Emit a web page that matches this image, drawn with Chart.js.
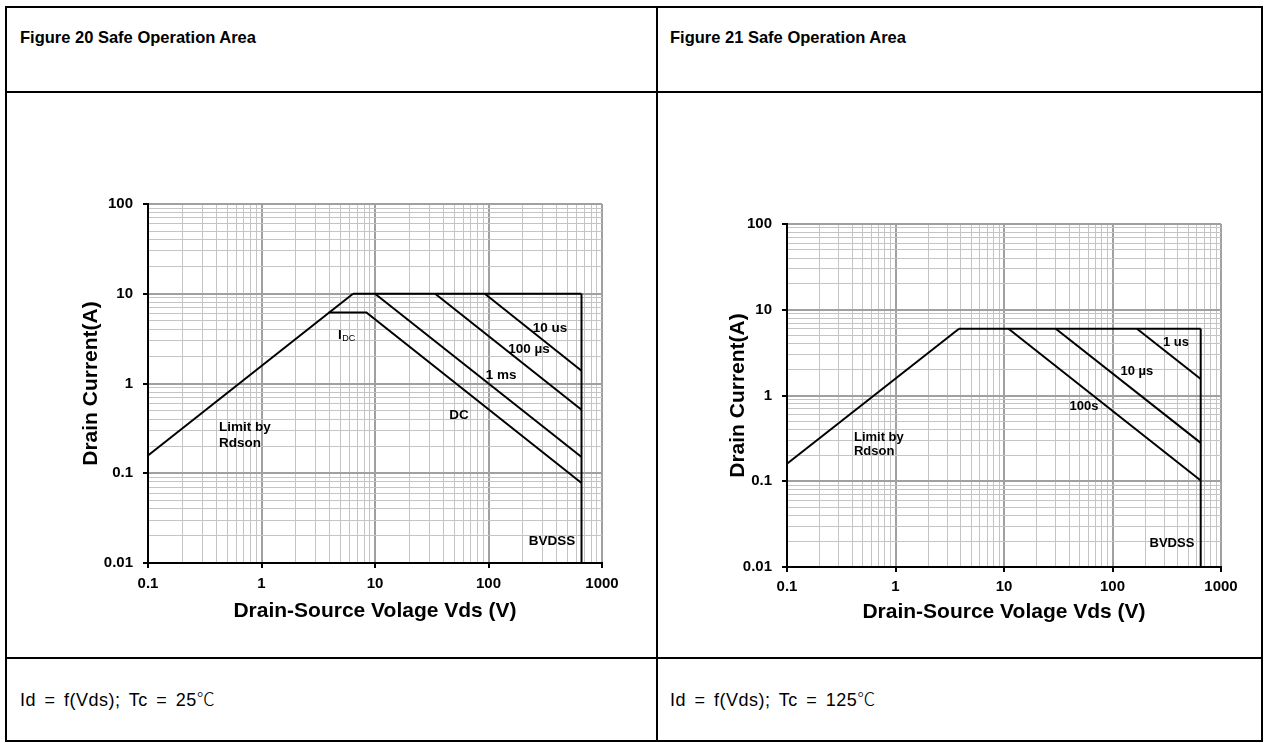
<!DOCTYPE html>
<html>
<head>
<meta charset="utf-8">
<script src="https://cdn.jsdelivr.net/npm/chart.js@4.4.1/dist/chart.umd.min.js"></script>
<style>
  html, body { margin: 0; padding: 0; background: #fff; }
  body { width: 1268px; height: 743px; position: relative; overflow: hidden;
         font-family: "Liberation Sans", Arial, sans-serif; color: #000; }
  .ln { position: absolute; background: #000; }
  .cap { position: absolute; font-size: 16.5px; font-weight: bold; line-height: 20px; white-space: nowrap; }
  .note { position: absolute; font-size: 18px; line-height: 20px; white-space: nowrap;
          letter-spacing: 0.5px; word-spacing: 3px; }
  .note span { font-family: "Noto Sans CJK SC", "DejaVu Sans", sans-serif; font-weight: 300; }
  .box { position: absolute; }
</style>
</head>
<body>
<!-- table lines -->
<div class="ln" style="left:5px;top:6px;width:1258px;height:2px"></div>
<div class="ln" style="left:5px;top:91px;width:1258px;height:2px"></div>
<div class="ln" style="left:5px;top:657px;width:1258px;height:2px"></div>
<div class="ln" style="left:5px;top:740px;width:1258px;height:2px"></div>
<div class="ln" style="left:5px;top:6px;width:2px;height:736px"></div>
<div class="ln" style="left:656px;top:6px;width:2px;height:736px"></div>
<div class="ln" style="left:1261px;top:6px;width:2px;height:736px"></div>

<div class="cap" style="left:20px;top:27px">Figure 20 Safe Operation Area</div>
<div class="cap" style="left:670px;top:27px">Figure 21 Safe Operation Area</div>
<div class="note" style="left:20px;top:688px">Id = f(Vds); Tc = 25<span>℃</span></div>
<div class="note" style="left:670px;top:688px">Id = f(Vds); Tc = 125<span>℃</span></div>

<div class="box" style="left:40px;top:170px;width:600px;height:470px"><canvas id="soa25" width="600" height="470"></canvas></div>
<div class="box" style="left:680px;top:190px;width:570px;height:450px"><canvas id="soa125" width="570" height="450"></canvas></div>

<script>
const FONT = '"Liberation Sans", Arial, sans-serif';

// axis ranges / labelled ticks
const xTicks = [0.1, 1, 10, 100, 1000];
const yTicks = [0.01, 0.1, 1, 10, 100];

// Figure 20, Tc = 25C
const f20RdsonV = [0.1, 6.4];
const f20RdsonI = [0.158, 10];
const f20LimitV = [6.4, 660];
const f20LimitI = [10, 10];
const f20DcV = [3.9, 8.4, 660];
const f20DcI = [6.2, 6.2, 0.078];
const f20Ms1V = [10, 660];
const f20Ms1I = [10, 0.152];
const f20Us100V = [33.9, 660];
const f20Us100I = [10, 0.51];
const f20Us10V = [92.8, 660];
const f20Us10I = [10, 1.39];
const f20BvV = [660, 660];
const f20BvI = [10, 0.01];

// Figure 21, Tc = 125C
const f21RdsonV = [0.1, 3.85];
const f21RdsonI = [0.16, 6];
const f21LimitV = [3.85, 650];
const f21LimitI = [6, 6];
const f21S100V = [11, 650];
const f21S100I = [6, 0.102];
const f21Us10V = [30, 650];
const f21Us10I = [6, 0.28];
const f21Us1V = [168, 650];
const f21Us1I = [6, 1.56];
const f21BvV = [650, 650];
const f21BvI = [6, 0.01];

// curve labels, anchored in data units
const f20Notes = [
    { text: "10 us", x: 348, y: 4.15 },
    { text: "100 µs", x: 227, y: 2.42 },
    { text: "1 ms", x: 129, y: 1.24 },
    { text: "DC", x: 55, y: 0.446 },
    { text: "Limit by", x: 0.423, y: 0.327, align: "left" },
    { text: "Rdson", x: 0.423, y: 0.217, align: "left" },
    { text: "BVDSS", x: 362, y: 0.0176 },
    { text: "I", sub: "DC", x: 4.72, y: 3.47, align: "left" }
];
const f21Notes = [
    { text: "1 us", x: 385, y: 4.2 },
    { text: "10 µs", x: 168, y: 1.93 },
    { text: "100s", x: 54.6, y: 0.755 },
    { text: "Limit by", x: 0.414, y: 0.328, align: "left" },
    { text: "Rdson", x: 0.414, y: 0.225, align: "left" },
    { text: "BVDSS", x: 353, y: 0.019 }
];

const xTitle = "Drain-Source Volage Vds (V)";
const yTitle = "Drain Current(A)";

function isMajor(v) {
    const l = Math.log10(v);
    return Math.abs(l - Math.round(l)) < 1e-6;
}

function decadeTicks(min, max) {
    const out = [];
    for (let e = Math.round(Math.log10(min)); e < Math.round(Math.log10(max)); e++) {
        for (let m = 1; m < 10; m++) {
            out.push(Number((m * Math.pow(10, e)).toPrecision(6)));
        }
    }
    out.push(max);
    return out;
}

function toPoints(vArr, iArr) {
    return vArr.map((v, i) => ({ x: v, y: iArr[i] }));
}

function logAxis(ticksList, isX, boxSize, pad) {
    const min = ticksList[0];
    const max = ticksList[ticksList.length - 1];
    return {
        type: 'logarithmic',
        min: min,
        max: max,
        afterBuildTicks: function (axis) {
            axis.ticks = decadeTicks(min, max).map(v => ({ value: v }));
        },
        afterFit: function (axis) {
            if (isX) axis.height = boxSize;
            else axis.width = boxSize;
        },
        ticks: {
            autoSkip: false,
            maxRotation: 0,
            padding: pad,
            color: '#000',
            font: { family: FONT, size: 15, weight: 'bold' },
            callback: function (value) {
                if (!isMajor(value)) return '';
                return value >= 1 ? String(Math.round(value)) : String(value);
            }
        },
        grid: {
            color: c => (c.tick && isMajor(c.tick.value)) ? '#a0a0a0' : '#c4c4c4',
            lineWidth: c => (c.tick && isMajor(c.tick.value)) ? 2 : 1,
            tickColor: c => (c.tick && isMajor(c.tick.value)) ? '#000' : 'rgba(0,0,0,0)',
            tickLength: 5,
            tickWidth: 2
        },
        border: { display: true, color: '#000', width: 2 }
    };
}

function makeNotesPlugin(notes, cfg) {
    return {
        id: 'soaNotes',
        afterDraw: function (chart) {
            const { ctx, chartArea } = chart;
            const xs = chart.scales.x;
            const ys = chart.scales.y;
            ctx.save();
            ctx.fillStyle = '#000';
            ctx.textBaseline = 'middle';
            notes.forEach(n => {
                const px = xs.getPixelForValue(n.x);
                const py = ys.getPixelForValue(n.y);
                ctx.font = cfg.noteFont;
                ctx.textAlign = n.align || 'center';
                ctx.fillText(n.text, px, py);
                if (n.sub) {
                    const w = ctx.measureText(n.text).width;
                    ctx.font = cfg.subFont;
                    ctx.textAlign = 'left';
                    ctx.fillText(n.sub, px + w + 0.5, py + 4);
                }
            });
            ctx.font = 'bold 21px ' + FONT;
            ctx.textAlign = 'center';
            ctx.fillText(xTitle, (chartArea.left + chartArea.right) / 2, chartArea.bottom + cfg.xTitleGap);
            ctx.translate(chartArea.left - cfg.yTitleGap, (chartArea.top + chartArea.bottom) / 2);
            ctx.rotate(-Math.PI / 2);
            ctx.fillText(yTitle, 0, 0);
            ctx.restore();
        }
    };
}

function lineSet(points) {
    return {
        data: points,
        showLine: true,
        borderColor: '#000',
        borderWidth: 2,
        pointRadius: 0,
        fill: false,
        tension: 0
    };
}

function CreateSoaChart(canvasID, series, notes, layout) {
    const canvas = document.getElementById(canvasID);
    return new Chart(canvas, {
        type: 'scatter',
        data: { datasets: series.map(lineSet) },
        options: {
            responsive: false,
            animation: false,
            layout: { padding: { left: 0, top: layout.top, right: layout.right, bottom: 0 } },
            plugins: { legend: { display: false }, tooltip: { enabled: false } },
            scales: {
                x: logAxis(xTicks, true, layout.xBox, layout.xPad),
                y: logAxis(yTicks, false, layout.yBox, 10)
            }
        },
        plugins: [makeNotesPlugin(notes, layout)]
    });
}

CreateSoaChart("soa25", [
    toPoints(f20RdsonV, f20RdsonI),
    toPoints(f20LimitV, f20LimitI),
    toPoints(f20DcV, f20DcI),
    toPoints(f20Ms1V, f20Ms1I),
    toPoints(f20Us100V, f20Us100I),
    toPoints(f20Us10V, f20Us10I),
    toPoints(f20BvV, f20BvI)
], f20Notes, {
    top: 34, right: 38, xBox: 77, yBox: 108, xPad: 7,
    xTitleGap: 48, yTitleGap: 57,
    noteFont: 'bold 13.5px ' + FONT, subFont: '9px ' + FONT
});

CreateSoaChart("soa125", [
    toPoints(f21RdsonV, f21RdsonI),
    toPoints(f21LimitV, f21LimitI),
    toPoints(f21S100V, f21S100I),
    toPoints(f21Us10V, f21Us10I),
    toPoints(f21Us1V, f21Us1I),
    toPoints(f21BvV, f21BvI)
], f21Notes, {
    top: 34, right: 29, xBox: 73, yBox: 107, xPad: 6,
    xTitleGap: 45, yTitleGap: 49,
    noteFont: 'bold 13px ' + FONT, subFont: 'bold 9px ' + FONT
});
</script>
</body>
</html>
